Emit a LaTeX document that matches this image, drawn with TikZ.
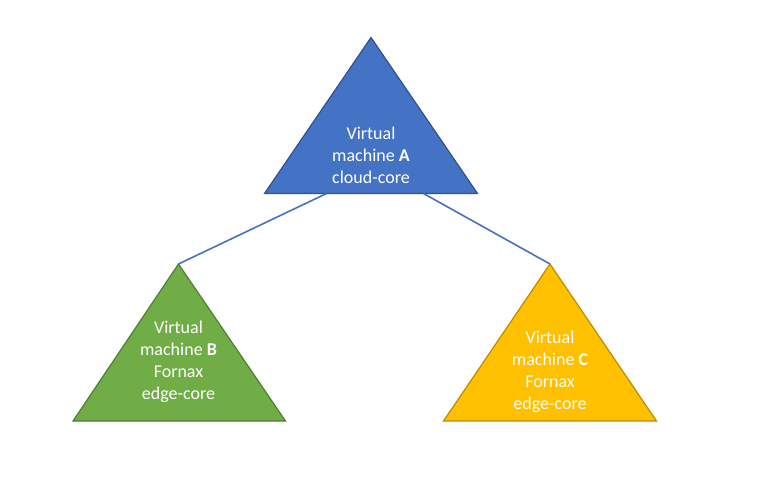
\documentclass[tikz,border=0pt]{standalone}
\usepackage{fontspec}
\setmainfont{Carlito}
\definecolor{blueF}{HTML}{4472C4}
\definecolor{blueD}{HTML}{2F528F}
\definecolor{greenF}{HTML}{70AD47}
\definecolor{greenD}{HTML}{507E32}
\definecolor{yelF}{HTML}{FFC000}
\definecolor{yelD}{HTML}{BC8C00}
\begin{document}
\begin{tikzpicture}[x=0.75pt,y=-0.75pt,
  tri/.style={line width=0.9pt, line join=miter},
  lbl/.style={text=white, align=center, font=\fontsize{13.5}{16.5}\selectfont, inner sep=0pt},
  link/.style={draw=blueF, line width=1.2pt}]
\useasboundingbox (0,0) rectangle (779,483);
% top triangle
\coordinate (aT) at (371,37.5);
\coordinate (aL) at (264.5,193.5);
\coordinate (aR) at (477.5,193.5);
\coordinate (aOutL) at (326.5,193.5);
\coordinate (aOutR) at (423.5,193.5);
\filldraw[tri, fill=blueF, draw=blueD] (aT) -- (aR) -- (aL) -- cycle;
\node[lbl] (A) at (371,155.5) {Virtual\\machine \textbf{A}\\cloud-core};
% left triangle
\coordinate (bT) at (178.5,264);
\coordinate (bL) at (73,421);
\coordinate (bR) at (285.5,421);
\filldraw[tri, fill=greenF, draw=greenD] (bT) -- (bR) -- (bL) -- cycle;
\node[lbl] (B) at (178.5,361.5) {Virtual\\machine \textbf{B}\\Fornax\\edge-core};
% right triangle
\coordinate (cT) at (550,264);
\coordinate (cL) at (443.5,421);
\coordinate (cR) at (656.5,421);
\filldraw[tri, fill=yelF, draw=yelD] (cT) -- (cR) -- (cL) -- cycle;
\node[lbl] (C) at (550,372) {Virtual\\machine \textbf{C}\\Fornax\\edge-core};
% connectors
\draw[link] (aOutL) -- (bT);
\draw[link] (aOutR) -- (cT);
\end{tikzpicture}
\end{document}
